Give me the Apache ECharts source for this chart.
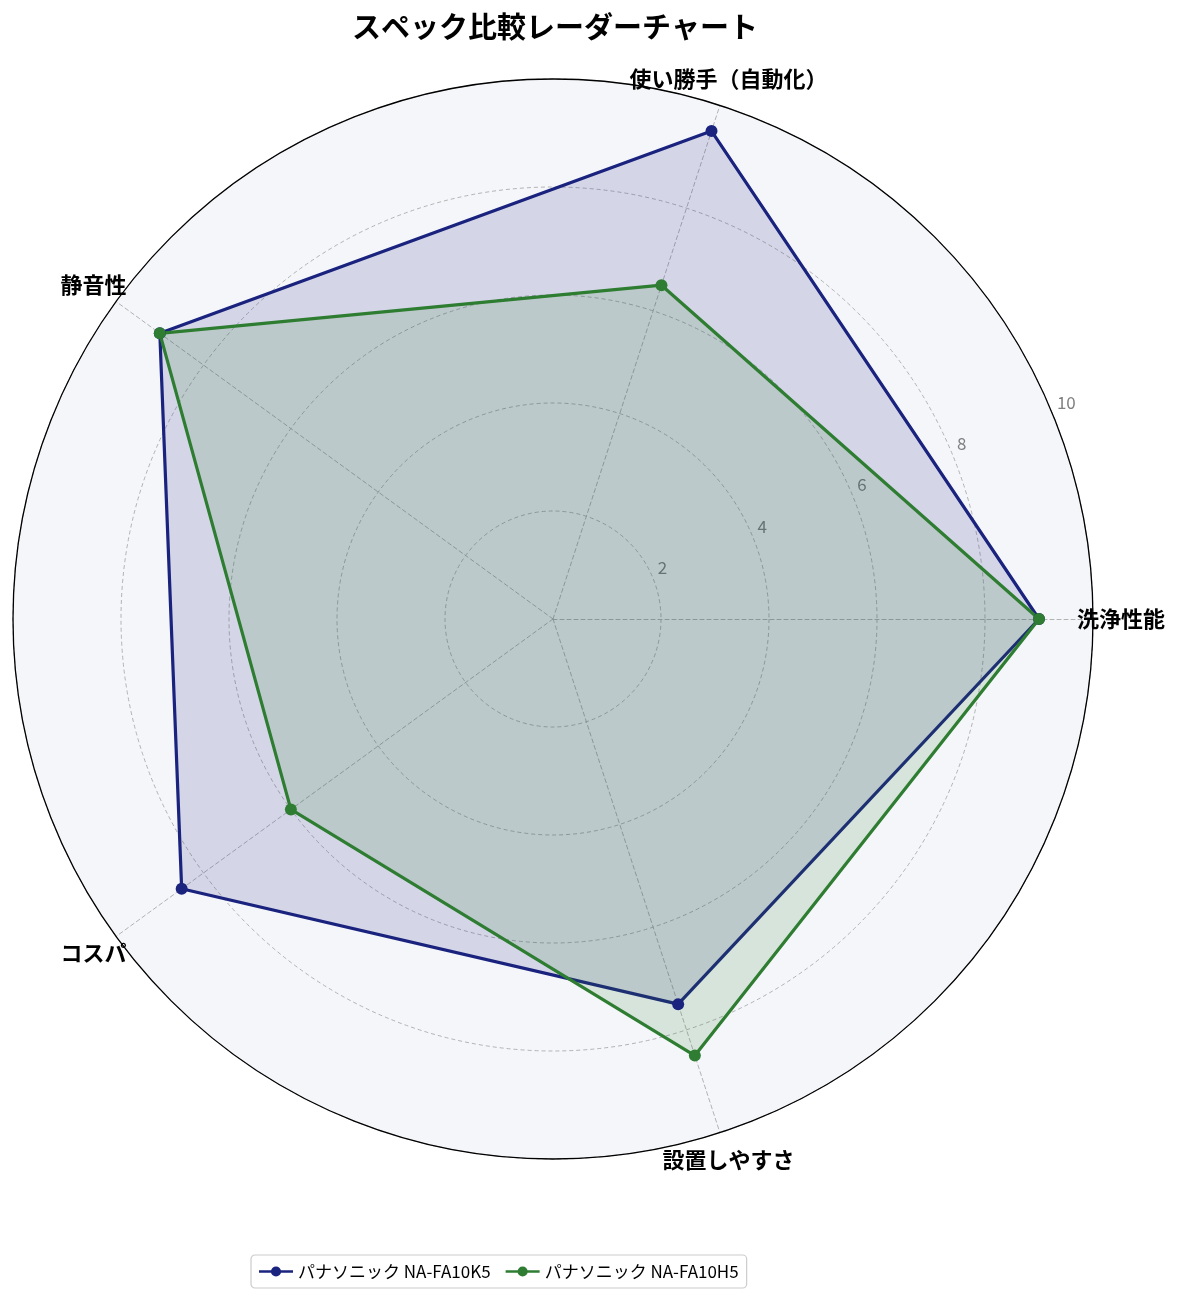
<!DOCTYPE html>
<html>
<head>
<meta charset="utf-8">
<script src="https://cdn.jsdelivr.net/npm/echarts@6/dist/echarts.min.js"></script>
<style>html,body{margin:0;padding:0;background:#fff}#c{width:1185px;height:1304px}</style>
</head>
<body>
<div id="c"></div>
<script>
const categories = ['洗浄性能', '使い勝手（自動化）', '静音性', 'コスパ', '設置しやすさ'];
const seriesNames = ['パナソニック NA-FA10K5', 'パナソニック NA-FA10H5'];
const valuesK5 = [9.0, 9.5, 9.0, 8.5, 7.5];
const valuesH5 = [9.0, 6.5, 9.0, 6.0, 8.5];
const radialMax = 10;
const radialStep = 2;
const titleText = 'スペック比較レーダーチャート';

const FONT = '"Noto Sans CJK JP", "Noto Sans", sans-serif';
const colors = ['#1A237E', '#2E7D32'];
const CX = 553, CY = 619, R = 540;
const LABEL_R = 10.52; // radial position (in axis units) of category names
const legendIcon = 'path://M0,10.5H14.3V13.5H0Z M25.7,10.5H40V13.5H25.7Z M26,12A6,6 0 1,1 14,12A6,6 0 1,1 26,12Z';

const chart = echarts.init(document.getElementById('c'), null, {renderer: 'canvas'});
chart.setOption({
  backgroundColor: '#ffffff',
  textStyle: {fontFamily: FONT},
  title: {
    text: titleText,
    left: CX - 3, top: 7, textAlign: 'center',
    textStyle: {fontSize: 29, fontWeight: 'bold', color: '#000', fontFamily: FONT}
  },
  legend: {
    data: seriesNames.map(n => ({name: n, icon: legendIcon})),
    left: 251, top: 1255,
    itemWidth: 34, itemHeight: 12, itemGap: 15,
    padding: [8, 8],
    borderColor: '#cccccc', borderWidth: 1.2, borderRadius: 4,
    textStyle: {fontSize: 17, color: '#000', fontFamily: FONT}
  },
  radar: {
    center: [CX, CY], radius: R, startAngle: 0, shape: 'circle',
    splitNumber: radialMax / radialStep,
    indicator: categories.map(n => ({name: n, min: 0, max: radialMax})),
    axisName: {show: false},
    splitLine: {lineStyle: {color: '#aaaaaa', type: [4, 3], width: 0.9}},
    splitArea: {show: true, areaStyle: {color: ['#F5F6FA']}},
    axisLine: {lineStyle: {color: '#aaaaaa', type: [4, 3], width: 0.9}},
    axisTick: {show: false},
    axisLabel: {show: false}
  },
  polar: [
    {center: [CX, CY], radius: R},
    {center: [CX, CY], radius: R}
  ],
  angleAxis: [{
    polarIndex: 0,
    type: 'value', min: 0, max: 360, startAngle: 22.5, z: 3,
    axisLine: {show: true, lineStyle: {color: '#000', width: 1.3}},
    axisTick: {show: false}, axisLabel: {show: false}, splitLine: {show: false}
  }, {
    polarIndex: 1,
    type: 'value', min: 0, max: 360, startAngle: 0, clockwise: false,
    axisLine: {show: false}, axisTick: {show: false}, axisLabel: {show: false}, splitLine: {show: false}
  }],
  radiusAxis: [{
    polarIndex: 0,
    type: 'value', min: 0, max: radialMax, interval: radialStep, z: 3,
    axisLine: {show: false}, axisTick: {show: false}, splitLine: {show: false},
    axisLabel: {margin: 0, align: 'left', verticalAlign: 'bottom',
      formatter: v => (v === 0 ? '' : '{t|' + v + '}'),
      rich: {t: {color: '#808080', fontSize: 17, lineHeight: 20, padding: [0, 0, 0, 5], fontFamily: FONT}}}
  }, {
    polarIndex: 1,
    type: 'value', min: 0, max: radialMax,
    axisLine: {show: false}, axisTick: {show: false}, axisLabel: {show: false}, splitLine: {show: false}
  }],
  series: [{
    type: 'radar',
    z: 4,
    data: [
      {name: seriesNames[0], value: valuesK5,
        lineStyle: {color: colors[0], width: 3.2},
        itemStyle: {color: colors[0]},
        areaStyle: {color: colors[0], opacity: 0.15},
        symbol: 'circle', symbolSize: 12},
      {name: seriesNames[1], value: valuesH5,
        lineStyle: {color: colors[1], width: 3.2},
        itemStyle: {color: colors[1]},
        areaStyle: {color: colors[1], opacity: 0.15},
        symbol: 'circle', symbolSize: 12}
    ]
  }, {
    type: 'scatter',
    coordinateSystem: 'polar',
    polarIndex: 1,
    silent: true,
    clip: false,
    z: 5,
    symbol: 'circle',
    symbolSize: 0.1,
    itemStyle: {color: '#000', opacity: 1},
    label: {show: true, position: 'inside', formatter: '{b}', opacity: 1,
      color: '#000', textBorderWidth: 0, textBorderColor: 'transparent',
      fontSize: 22, fontWeight: 'bold', fontFamily: FONT},
    data: categories.map((c, i) => ({name: c, value: [LABEL_R, i * 360 / categories.length]}))
  }],
  color: colors
});
</script>
</body>
</html>
